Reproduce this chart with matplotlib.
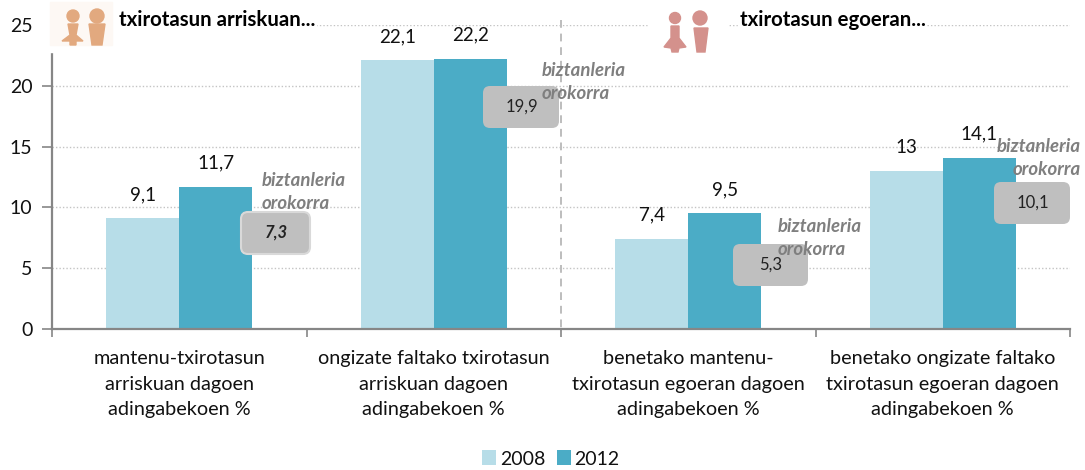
import matplotlib
matplotlib.use("Agg")
import matplotlib.pyplot as plt
from matplotlib.patches import Circle, Polygon, Rectangle, FancyBboxPatch

plt.rcParams['font.family'] = ['Lato', 'DejaVu Sans']

categories = ["mantenu-txirotasun\narriskuan dagoen\nadingabekoen %",
              "ongizate faltako txirotasun\narriskuan dagoen\nadingabekoen %",
              "benetako mantenu-\ntxirotasun egoeran dagoen\nadingabekoen %",
              "benetako ongizate faltako\ntxirotasun egoeran dagoen\nadingabekoen %"]
v2008 = [9.1, 22.1, 7.4, 13]
v2012 = [11.7, 22.2, 9.5, 14.1]
general = ["7,3", "19,9", "5,3", "10,1"]
note = "biztanleria\norokorra"
head_left = "txirotasun arriskuan..."
head_right = "txirotasun egoeran..."

C1, C2 = "#b7dde8", "#4bacc6"
AXC = "#868686"
W, H = 1085, 470


def fmt(v):
    return str(v).replace(".", ",")


fig = plt.figure(figsize=(W / 100, H / 100), dpi=100)
ax = fig.add_axes([52 / W, 1 - 329 / H, (1070 - 52) / W, (329 - 25) / H])
xs = range(len(categories))
bw = 73 / 254.5
b1 = ax.bar([x - bw / 2 for x in xs], v2008, bw, color=C1, label="2008", zorder=2)
b2 = ax.bar([x + bw / 2 for x in xs], v2012, bw, color=C2, label="2012", zorder=2)
ax.bar_label(b1, labels=[fmt(v) for v in v2008], padding=11, fontsize=13.5, color="#111111")
ax.bar_label(b2, labels=[fmt(v) for v in v2012], padding=11, fontsize=13.5, color="#111111")

ax.set_xlim(-0.5, 3.5)
ax.set_ylim(0, 25)
ax.set_yticks([0, 5, 10, 15, 20, 25])
ax.tick_params(axis="y", labelsize=14, color=AXC, width=1.2, length=7, pad=7, labelcolor="#111111")
ax.set_xticks([-0.5, 0.5, 1.5, 2.5, 3.5])
ax.set_xticklabels([])
ax.set_xticks(list(xs), minor=True)
ax.set_xticklabels(categories, minor=True, fontsize=14.3, linespacing=1.62, color="#111111")
ax.tick_params(axis="x", which="major", color=AXC, width=1.2, length=6)
ax.tick_params(axis="x", which="minor", length=0, pad=15)
ax.grid(axis="y", color="#c4c4c4", linestyle=(0, (1, 1.5)), linewidth=1, zorder=0)
ax.set_axisbelow(True)
for s in ("top", "right"):
    ax.spines[s].set_visible(False)
for s in ("left", "bottom"):
    ax.spines[s].set_color(AXC)
    ax.spines[s].set_linewidth(1.6)

ax.legend(loc="center", bbox_to_anchor=(551 / W, 1 - 459 / H), bbox_transform=fig.transFigure,
          ncol=2, frameon=False, fontsize=14, handlelength=0.7, handleheight=0.8,
          handletextpad=0.2, columnspacing=0.6, labelcolor="#111111")

# overlay in pixel coordinates for the annotations
ov = fig.add_axes([0, 0, 1, 1], facecolor="none")
ov.set_xlim(0, W)
ov.set_ylim(H, 0)
ov.axis("off")

ov.plot([561, 561], [20, 329], color="#bdbdbd", lw=1.4, linestyle=(0, (4, 3)), zorder=1)

# icon panels hide the top of the axis and the top gridline
ov.add_patch(Rectangle((36, 0), 280, 52, color="white", zorder=2))
ov.add_patch(Rectangle((648, 0), 80, 56, color="white", zorder=2))
ov.add_patch(Rectangle((738, 8), 187, 24, color="white", zorder=2))
ov.add_patch(Rectangle((50, 2), 62, 43, color="#fdf8f4", zorder=2))

c = "#e2a97f"
ov.add_patch(Circle((73, 16), 6, color=c, zorder=3))
ov.add_patch(Polygon([(62, 41), (70, 35), (68, 24), (78, 24), (76, 35), (83, 41), (76, 41), (76, 45), (70, 45), (70, 41)],
                     color=c, zorder=3))
ov.add_patch(Circle((97, 16), 7, color=c, zorder=3))
ov.add_patch(Polygon([(89, 24), (105, 24), (102, 45), (92, 45)], color=c, zorder=3))
c = "#d4918c"
ov.add_patch(Circle((675, 18), 5.5, color=c, zorder=3))
ov.add_patch(Polygon([(664, 47), (671, 38), (671, 26), (679, 26), (679, 38), (686, 47), (679, 48), (678, 52), (672, 52), (671, 48)],
                     color=c, zorder=3))
ov.add_patch(Circle((700, 18), 7, color=c, zorder=3))
ov.add_patch(Polygon([(694, 28), (708, 28), (705, 52), (697, 52)], color=c, zorder=3))

ov.text(119, 20, head_left, fontsize=14.7, fontweight="bold", va="center", ha="left", color="black", zorder=4)
ov.text(740, 20, head_right, fontsize=14.7, fontweight="bold", va="center", ha="left", color="black", zorder=4)

boxes = [(241, 212, 69, 42), (483, 86, 76, 42), (733, 244, 75, 42), (994, 182, 76, 42)]
notes = [(262, 192, "left"), (542, 82, "left"), (778, 238, "left"), (1081, 158, "right")]
for i, ((x, y, w, h), g, (nx, ny, ha)) in enumerate(zip(boxes, general, notes)):
    ov.add_patch(FancyBboxPatch((x + 6, y + 6), w - 12, h - 12, boxstyle="round,pad=6,rounding_size=7",
                                fc="#bfbfbf", ec="#d9d9d9" if i == 0 else "none", lw=1.5, zorder=5))
    ov.text(x + w / 2 + 0.5, y + h / 2, g, fontsize=12, ha="center", va="center", color="#222222",
            fontweight="bold" if i == 0 else "normal", style="italic" if i == 0 else "normal", zorder=6)
    ov.text(nx, ny, note, fontsize=13.4, fontweight="bold", style="italic", color="#7f7f7f", ha=ha,
            va="center", linespacing=1.45, zorder=7)

fig.savefig("out.png", dpi=100)
